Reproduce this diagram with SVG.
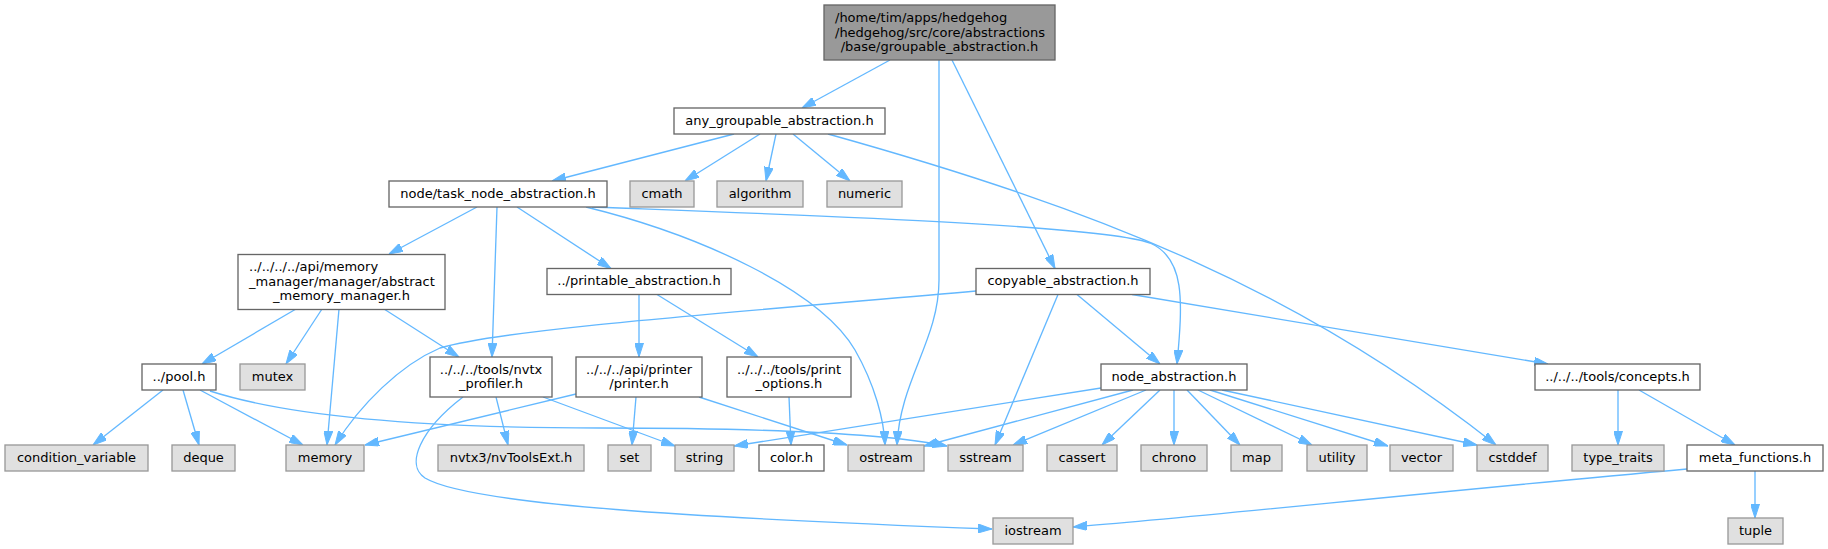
<svg xmlns="http://www.w3.org/2000/svg" width="1828" height="549" viewBox="0 0 1828 549">
<style>
  .n rect { fill: #ffffff; stroke: #666666; stroke-width: 1.33; }
  .g rect { fill: #e0e0e0; stroke: #999999; stroke-width: 1.33; }
  .r rect { fill: #999999; stroke: #666666; stroke-width: 1.33; }
  text { font-family: "DejaVu Sans", "Liberation Sans", sans-serif; font-size: 13px; fill: #000000; }
  .m { text-anchor: middle; }
  .s { text-anchor: start; }
  #edges path { fill: none; stroke: #63b8ff; stroke-width: 1.33; marker-end: url(#arrow); }
</style>
<defs>
  <marker id="arrow" markerUnits="userSpaceOnUse" viewBox="0 0 14 9" refX="14" refY="4.5" markerWidth="14" markerHeight="9" orient="auto">
    <path d="M0,0 L14,4.5 L0,9 z" fill="#63b8ff" stroke="#63b8ff" stroke-width="1"/>
  </marker>
</defs>
<rect width="1828" height="549" fill="#ffffff"/>
<g id="edges">
  <path d="M890,60 L802,108"/>
  <path d="M939,60 L939,280 C939,340 900,380 897,445"/>
  <path d="M952,60 L1055,268.5"/>
  <path d="M734,134 L552,181"/>
  <path d="M760,134 L685,181"/>
  <path d="M776,134 L766,181"/>
  <path d="M793,134 L850,181"/>
  <path d="M828,134 C1100,210 1300,290 1496,445"/>
  <path d="M477,207 L389,254"/>
  <path d="M497,207 L492,357"/>
  <path d="M517,207 L611,268.5"/>
  <path d="M586,207 C700,235 820,290 855,350 C875,385 884,420 885,445"/>
  <path d="M592,207 C800,215 1100,225 1150,243 C1185,258 1183,300 1177,364"/>
  <path d="M296,309 L202,364"/>
  <path d="M322,309 L286,364"/>
  <path d="M339,309 L327,445"/>
  <path d="M384,309 L459,357"/>
  <path d="M163,390 L93,445"/>
  <path d="M183,390 L199,445"/>
  <path d="M200,390 L303,445"/>
  <path d="M210,391 C300,420 450,428 600,428 C750,428 880,432 947,446"/>
  <path d="M496,397 L508,445"/>
  <path d="M543,397 L675,446"/>
  <path d="M463,397 C420,430 405,465 425,478 C470,505 700,518 992,529"/>
  <path d="M639,294.5 L639,357"/>
  <path d="M657,294.5 L758,357"/>
  <path d="M976,291 C700,315 500,330 440,348 C400,365 360,405 335,445"/>
  <path d="M1058,294.5 L995,445"/>
  <path d="M1077,294.5 L1160,364"/>
  <path d="M1132,294.5 L1548,364"/>
  <path d="M576,394 L365,445"/>
  <path d="M636,397 L632,445"/>
  <path d="M699,397 L847,445"/>
  <path d="M789,397 L791,445"/>
  <path d="M1101,388 L734,446"/>
  <path d="M1133,390 L924,446"/>
  <path d="M1146,390 L1013,445"/>
  <path d="M1160,390 L1102,445"/>
  <path d="M1174,390 L1174,445"/>
  <path d="M1187,390 L1240,445"/>
  <path d="M1198,390 L1312,445"/>
  <path d="M1210,390 L1388,446"/>
  <path d="M1222,390 L1477,445"/>
  <path d="M1618,390 L1618,445"/>
  <path d="M1639,390 L1735,445"/>
  <path d="M1687,469 C1400,495 1200,517 1073,527"/>
  <path d="M1755,471 L1755,518"/>
</g>
<g id="root" class="r"><rect x="824" y="5" width="231" height="55"/>
  <text class="s" x="835" y="22">/home/tim/apps/hedgehog</text>
  <text class="s" x="835" y="36.5">/hedgehog/src/core/abstractions</text>
  <text class="m" x="939.5" y="51">/base/groupable_abstraction.h</text></g>
<g id="any_groupable" class="n"><rect x="674" y="108" width="211" height="26"/><text class="m" x="779.5" y="124.8">any_groupable_abstraction.h</text></g>
<g id="task_node" class="n"><rect x="389" y="181" width="218" height="26"/><text class="m" x="498" y="197.8">node/task_node_abstraction.h</text></g>
<g id="cmath" class="g"><rect x="630" y="181" width="64" height="26"/><text class="m" x="662" y="197.8">cmath</text></g>
<g id="algorithm" class="g"><rect x="717" y="181" width="86" height="26"/><text class="m" x="760" y="197.8">algorithm</text></g>
<g id="numeric" class="g"><rect x="827" y="181" width="75" height="26"/><text class="m" x="864.5" y="197.8">numeric</text></g>
<g id="memory_manager" class="n"><rect x="238" y="254.5" width="207" height="55"/>
  <text class="s" x="249" y="271">../../../../api/memory</text>
  <text class="s" x="249" y="285.5">_manager/manager/abstract</text>
  <text class="m" x="341.5" y="300">_memory_manager.h</text></g>
<g id="printable" class="n"><rect x="547" y="268.5" width="184" height="26"/><text class="m" x="639" y="285.3">../printable_abstraction.h</text></g>
<g id="copyable" class="n"><rect x="976" y="268.5" width="174" height="26"/><text class="m" x="1063" y="285.3">copyable_abstraction.h</text></g>
<g id="pool" class="n"><rect x="142" y="364" width="74" height="26"/><text class="m" x="179" y="380.8">../pool.h</text></g>
<g id="mutex" class="g"><rect x="240" y="364" width="65" height="26"/><text class="m" x="272.5" y="380.8">mutex</text></g>
<g id="nvtx_profiler" class="n"><rect x="430" y="357" width="122" height="40"/>
  <text class="m" x="491" y="373.5">../../../tools/nvtx</text>
  <text class="m" x="491" y="388">_profiler.h</text></g>
<g id="printer" class="n"><rect x="576" y="357" width="126" height="40"/>
  <text class="m" x="639" y="373.5">../../../api/printer</text>
  <text class="m" x="639" y="388">/printer.h</text></g>
<g id="print_options" class="n"><rect x="727" y="357" width="124" height="40"/>
  <text class="m" x="789" y="373.5">../../../tools/print</text>
  <text class="m" x="789" y="388">_options.h</text></g>
<g id="node_abstraction" class="n"><rect x="1101" y="364" width="146" height="26"/><text class="m" x="1174" y="380.8">node_abstraction.h</text></g>
<g id="concepts" class="n"><rect x="1535" y="364" width="165" height="26"/><text class="m" x="1617.5" y="380.8">../../../tools/concepts.h</text></g>
<g id="condition_variable" class="g"><rect x="5" y="445" width="143" height="26"/><text class="m" x="76.5" y="461.8">condition_variable</text></g>
<g id="deque" class="g"><rect x="172" y="445" width="63" height="26"/><text class="m" x="203.5" y="461.8">deque</text></g>
<g id="memory" class="g"><rect x="286" y="445" width="78" height="26"/><text class="m" x="325" y="461.8">memory</text></g>
<g id="nvToolsExt" class="g"><rect x="438" y="445" width="146" height="26"/><text class="m" x="511" y="461.8">nvtx3/nvToolsExt.h</text></g>
<g id="set" class="g"><rect x="608" y="445" width="43" height="26"/><text class="m" x="629.5" y="461.8">set</text></g>
<g id="string" class="g"><rect x="675" y="445" width="59" height="26"/><text class="m" x="704.5" y="461.8">string</text></g>
<g id="color" class="n"><rect x="759" y="445" width="65" height="26"/><text class="m" x="791.5" y="461.8">color.h</text></g>
<g id="ostream" class="g"><rect x="848" y="445" width="76" height="26"/><text class="m" x="886" y="461.8">ostream</text></g>
<g id="sstream" class="g"><rect x="948" y="445" width="75" height="26"/><text class="m" x="985.5" y="461.8">sstream</text></g>
<g id="cassert" class="g"><rect x="1047" y="445" width="70" height="26"/><text class="m" x="1082" y="461.8">cassert</text></g>
<g id="chrono" class="g"><rect x="1141" y="445" width="66" height="26"/><text class="m" x="1174" y="461.8">chrono</text></g>
<g id="map" class="g"><rect x="1231" y="445" width="51" height="26"/><text class="m" x="1256.5" y="461.8">map</text></g>
<g id="utility" class="g"><rect x="1307" y="445" width="60" height="26"/><text class="m" x="1337" y="461.8">utility</text></g>
<g id="vector" class="g"><rect x="1390" y="445" width="63" height="26"/><text class="m" x="1421.5" y="461.8">vector</text></g>
<g id="cstddef" class="g"><rect x="1477" y="445" width="71" height="26"/><text class="m" x="1512.5" y="461.8">cstddef</text></g>
<g id="type_traits" class="g"><rect x="1572" y="445" width="92" height="26"/><text class="m" x="1618" y="461.8">type_traits</text></g>
<g id="meta_functions" class="n"><rect x="1687" y="445" width="136" height="26"/><text class="m" x="1755" y="461.8">meta_functions.h</text></g>
<g id="iostream" class="g"><rect x="993" y="518" width="80" height="26"/><text class="m" x="1033" y="534.8">iostream</text></g>
<g id="tuple" class="g"><rect x="1728" y="518" width="55" height="26"/><text class="m" x="1755.5" y="534.8">tuple</text></g>
</svg>
